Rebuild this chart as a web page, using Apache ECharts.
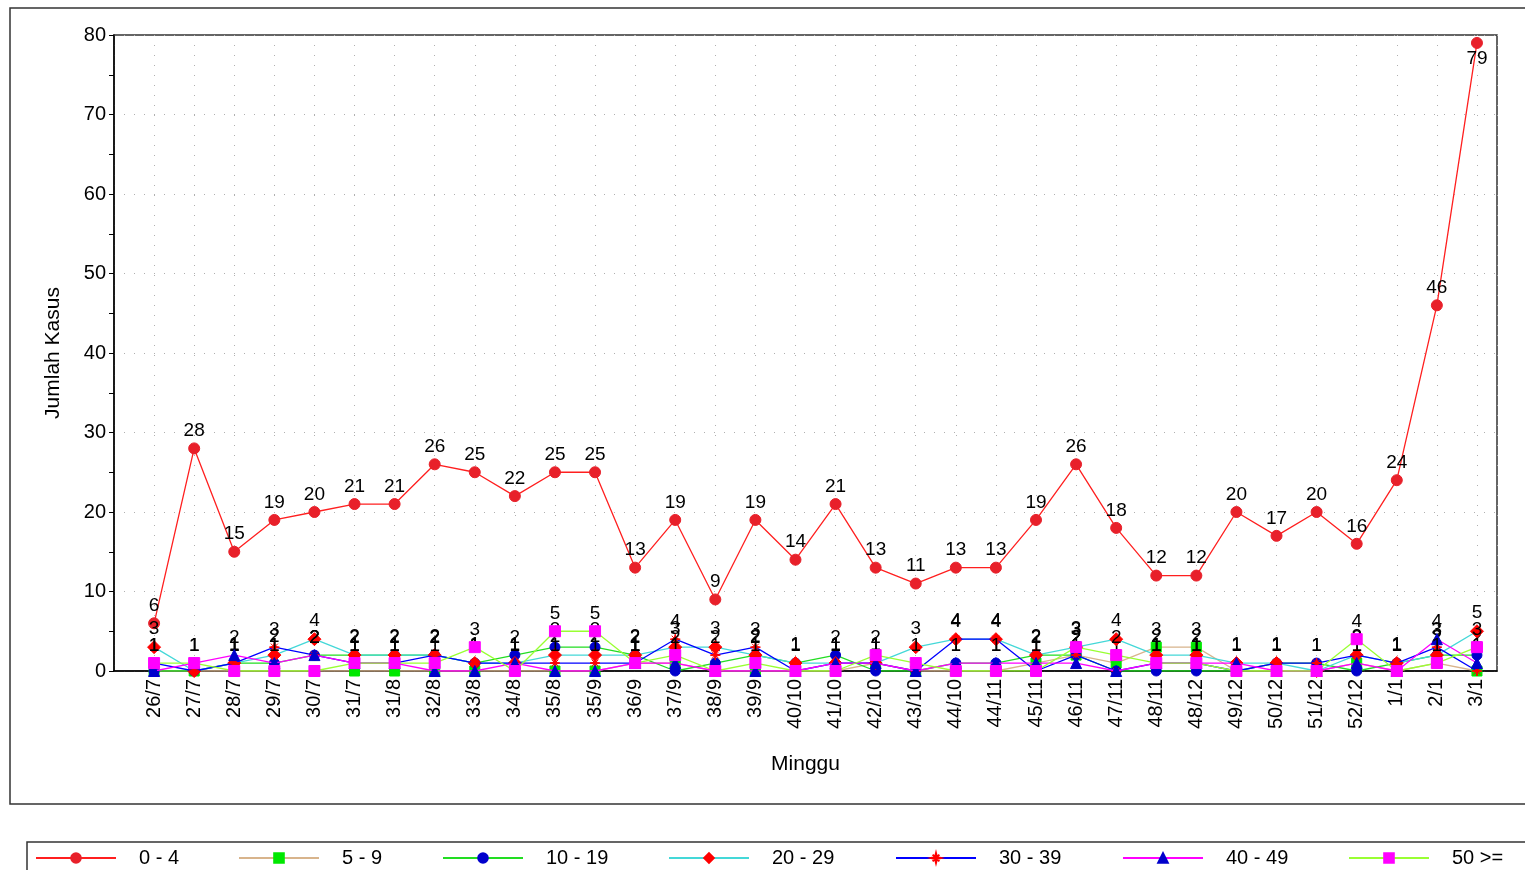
<!DOCTYPE html>
<html><head><meta charset="utf-8">
<script src="https://cdn.jsdelivr.net/npm/echarts@6/dist/echarts.min.js"></script>
<style>html,body{margin:0;padding:0;background:#fff}#c{width:1525px;height:870px}</style>
</head><body><div id="c"></div>
<script>
const categories = ['26/7','27/7','28/7','29/7','30/7','31/7','31/8','32/8','33/8','34/8','35/8','35/9','36/9','37/9','38/9','39/9','40/10','41/10','42/10','43/10','44/10','44/11','45/11','46/11','47/11','48/11','48/12','49/12','50/12','51/12','52/12','1/1','2/1','3/1'];
const age0_4   = [6,28,15,19,20,21,21,26,25,22,25,25,13,19,9,19,14,21,13,11,13,13,19,26,18,12,12,20,17,20,16,24,46,79];
const age5_9   = [0,0,0,0,0,0,0,0,0,0,0,0,1,1,0,0,0,0,1,0,0,0,1,2,1,3,3,0,0,0,1,0,1,0];
const age10_19 = [0,0,1,1,2,2,2,2,1,2,3,3,2,0,1,2,1,2,0,0,1,1,2,2,0,0,0,0,1,1,0,1,2,2];
const age20_29 = [3,0,1,2,4,2,2,2,1,1,2,2,2,3,3,2,1,1,1,3,4,4,2,3,4,2,2,1,1,0,2,1,2,5];
const age30_39 = [1,0,1,3,2,1,1,2,1,1,1,1,1,4,2,3,0,1,1,0,4,4,0,2,0,1,1,0,1,1,2,1,3,0];
const age40_49 = [0,1,2,1,2,1,1,0,0,1,0,0,1,1,0,0,0,1,1,0,1,1,1,1,0,1,1,1,0,0,1,0,4,1];
const age50up  = [1,1,0,0,0,1,1,1,3,0,5,5,1,2,0,1,0,0,2,1,0,0,0,3,2,1,1,0,0,0,4,0,1,3];
const yTicks = [0,10,20,30,40,50,60,70,80];

const FONT = '"Liberation Sans Narrow","Liberation Sans",sans-serif';
const starPath = 'path://M5,0 L6,4 L10,5 L6,6 L5,10 L4,6 L0,5 L4,4 Z M1.5,1.5 L8.5,8.5 M8.5,1.5 L1.5,8.5';

const defs = [
  {name:'0 - 4',   data:age0_4,   line:'#ff1f1f', sym:'circle',   symColor:'#e8202a', size:11},
  {name:'5 - 9',   data:age5_9,   line:'#d8b48c', sym:'rect',     symColor:'#00e800', size:10},
  {name:'10 - 19', data:age10_19, line:'#22dd22', sym:'circle',   symColor:'#0000cc', size:10},
  {name:'20 - 29', data:age20_29, line:'#44d8d8', sym:'diamond',  symColor:'#ff0000', size:13},
  {name:'30 - 39', data:age30_39, line:'#0000ff', sym:starPath,   symColor:'#ff0000', size:10},
  {name:'40 - 49', data:age40_49, line:'#ff00ff', sym:'triangle', symColor:'#0000cc', size:11},
  {name:'50 >=',   data:age50up,  line:'#99ff33', sym:'rect',     symColor:'#ff00ff', size:11}
];

const series = defs.map((d, k) => ({
  name: d.name, type: 'line',
  data: d.data.map((v, i) => {
    const item = {value: [i, v]};
    if (k === 0 && i === d.data.length - 1) item.label = {position: 'bottom', distance: 0};
    return item;
  }),
  symbol: d.sym, symbolSize: d.size,
  itemStyle: {color: d.symColor, borderColor: d.symColor, borderWidth: 1},
  lineStyle: {color: d.line, width: 1.3},
  animation: false,
  z: 2 + k,
  label: {
    show: true, position: 'top', distance: 2, color: '#000',
    fontFamily: FONT, fontSize: 19,
    formatter: p => p.value[1] === 0 ? '' : String(p.value[1])
  }
}));

const legendLeft = [30, 233, 437, 663, 890, 1117, 1343];
const legends = defs.map((d, i) => ({
  data: [d.name], left: legendLeft[i], top: 843,
  itemWidth: 80, itemHeight: 12, itemGap: 0,
  textStyle: {fontFamily: FONT, fontSize: 20, color: '#000', padding: [0, 0, 0, 18]},
  selectedMode: false
}));

const chart = echarts.init(document.getElementById('c'), null, {renderer: 'canvas'});
chart.setOption({
  backgroundColor: '#fff',
  animation: false,
  grid: {left: 114, right: 28, top: 35, bottom: 199, show: true, borderColor: '#333', borderWidth: 1.5, backgroundColor: 'transparent'},
  xAxis: {
    type: 'value', min: -1, max: 33.5, interval: 1,
    name: 'Minggu', nameLocation: 'middle', nameGap: 83,
    nameTextStyle: {fontFamily: FONT, fontSize: 21, color: '#000'},
    axisLine: {show: true, onZero: false, lineStyle: {color: '#000', width: 1.5}},
    axisTick: {show: false},
    axisLabel: {rotate: 90, fontFamily: FONT, fontSize: 20, color: '#000', margin: 8,
      showMaxLabel: false, showMinLabel: false,
      formatter: v => (v >= 0 && categories[v] !== undefined) ? categories[v] : ''},
    splitLine: {show: true, lineStyle: {color: '#b0b0b0', type: [1, 9], width: 1}}
  },
  yAxis: {
    type: 'value', min: yTicks[0], max: yTicks[yTicks.length - 1], interval: 10,
    name: 'Jumlah Kasus', nameLocation: 'middle', nameGap: 50, nameRotate: 90,
    nameTextStyle: {fontFamily: FONT, fontSize: 21, color: '#000'},
    axisLine: {show: true, onZero: false, lineStyle: {color: '#000', width: 1.5}},
    axisTick: {show: true, length: 5, lineStyle: {color: '#000'}},
    minorTick: {show: true, splitNumber: 2, length: 5, lineStyle: {color: '#000'}},
    axisLabel: {fontFamily: FONT, fontSize: 20, color: '#000', margin: 8},
    splitLine: {show: true, lineStyle: {color: '#b0b0b0', type: [1, 9], width: 1}}
  },
  legend: legends,
  graphic: [
    {type: 'rect', shape: {x: 10, y: 8, width: 1530, height: 796}, style: {fill: 'none', stroke: '#333', lineWidth: 1.5}, silent: true},
    {type: 'rect', shape: {x: 27, y: 842, width: 1510, height: 40}, style: {fill: 'none', stroke: '#333', lineWidth: 1.5}, silent: true}
  ],
  series: series
});
</script></body></html>
